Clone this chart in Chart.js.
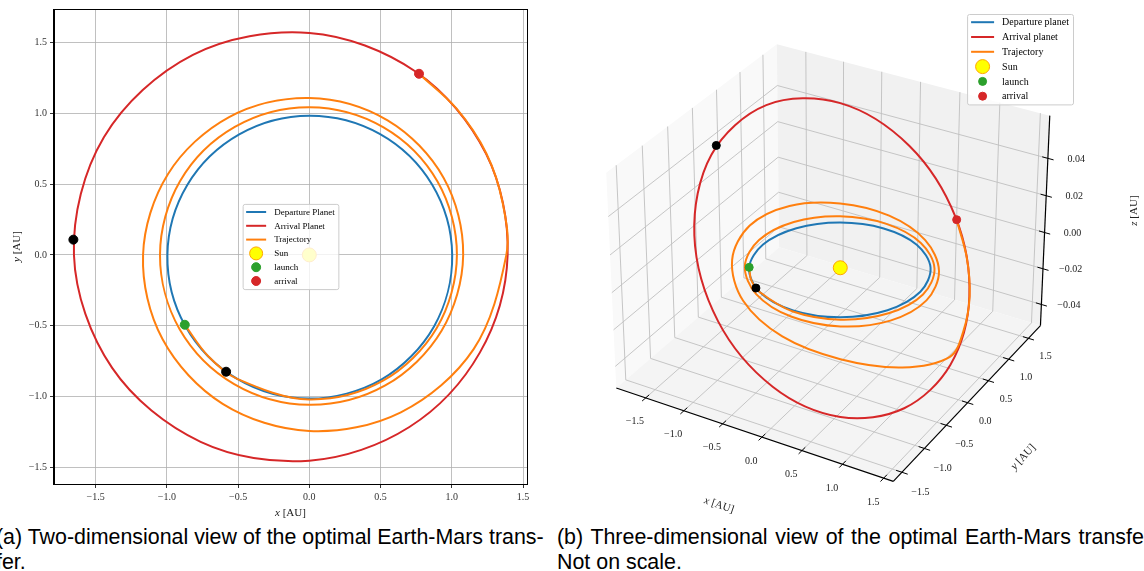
<!DOCTYPE html>
<html>
<head>
<meta charset="utf-8">
<script src="https://cdn.jsdelivr.net/npm/chart.js@4.4.1/dist/chart.umd.min.js"></script>
<style>
  html, body { margin: 0; padding: 0; background: #fff; }
  body { position: relative; width: 1144px; height: 571px; overflow: hidden; }
  #panel2d { position: absolute; left: 0; top: 0; width: 556px; height: 520px; }
  #panel3d { position: absolute; left: 556px; top: 0; width: 588px; height: 520px; }
  .caption { position: absolute; font-family: "Liberation Sans", Arial, sans-serif; font-size: 21.4px;
             line-height: 25px; color: #000; white-space: nowrap; }
</style>
</head>
<body>
<div id="panel2d"><canvas id="chart2d" width="556" height="520"></canvas></div>
<div id="panel3d"><canvas id="chart3d" width="588" height="520"></canvas></div>
<div class="caption" style="left:-4px; top:525px;">(a) Two-dimensional view of the optimal Earth-Mars trans-<br>fer.</div>
<div class="caption" style="left:557px; top:525px;"><span style="word-spacing:1.7px">(b) Three-dimensional view of the optimal Earth-Mars transfer.</span><br>Not on scale.</div>

<script>
// ---------------- data (AU) ----------------
const axisTicks = [-1.5, -1.0, -0.5, 0.0, 0.5, 1.0, 1.5];
const zTicks = [-0.04, -0.02, 0.00, 0.02, 0.04];

// planet orbits sampled every 30 degrees of heliocentric longitude
const orbitAngleDeg = [0, 30, 60, 90, 120, 150, 180, 210, 240, 270, 300, 330];
const earthRadius = [1.003, 0.995, 0.988, 0.984, 0.984, 0.989, 0.996, 1.005, 1.012, 1.016, 1.016, 1.011];
const earthZ      = [0, 0, 0, 0, 0, 0, 0, 0, 0, 0, 0, 0];
const marsRadius  = [1.392, 1.432, 1.496, 1.570, 1.634, 1.665, 1.652, 1.598, 1.526, 1.455, 1.405, 1.382];
const marsZ       = [-0.0342, -0.0155, 0.0087, 0.0328, 0.0497, 0.0529, 0.0406, 0.0173, -0.0089, -0.0304, -0.0427, -0.0439];

// spiral transfer: cumulative longitude (deg), radius, out-of-plane height
const transferAngleDeg = [209.5, 225, 240, 270, 300, 330, 360, 390, 420, 450, 480, 510, 540, 570, 600, 630, 660,
                          690, 720, 750, 780, 810, 840, 870, 900, 930, 960, 990, 1020, 1050, 1080, 1095,
                          1110, 1125, 1139];
const transferRadius = [1.004, 1.008, 1.012, 1.022, 1.029, 1.033, 1.036, 1.039, 1.042, 1.045, 1.046, 1.047, 1.048,
                        1.051, 1.055, 1.060, 1.066, 1.072, 1.080, 1.089, 1.099, 1.110, 1.126, 1.145, 1.167,
                        1.190, 1.216, 1.245, 1.285, 1.332, 1.383, 1.406, 1.435, 1.462, 1.494];
const transferZ = [0, 0, 0, -0.0004, -0.0009, -0.0011, -0.0010, -0.0005, 0.0003, 0.0012, 0.0019, 0.0022, 0.0018,
                   0.0009, -0.0005, -0.0022, -0.0035, -0.0041, -0.0036, -0.0018, 0.0011, 0.0043, 0.0070, 0.0089,
                   0.0082, 0.0043, -0.0020, -0.0085, -0.0150, -0.0230, -0.0300, -0.0245, -0.0153, -0.0040, 0.0079];

const sunPos         = [0, 0, 0];
const launchPos      = [-0.874, -0.494, 0];
const arrivalPos     = [0.770, 1.281, 0.0079];
const marsAtLaunch   = [-1.656, 0.108, 0.0432];
const earthAtArrival = [-0.584, -0.826, 0];

// ---------------- helpers ----------------
const DEG = Math.PI / 180;
const COLORS = { blue: '#1f77b4', red: '#d62728', orange: '#ff7f0e', green: '#2ca02c',
                 sun: '#ffff00', sunEdge: '#ffa500', black: '#000000' };
const SERIF = '"Liberation Serif", "Times New Roman", serif';

function polarToXYZ(angles, radii, zs) {
  return angles.map((a, i) => [radii[i] * Math.cos(a * DEG), radii[i] * Math.sin(a * DEG), zs[i]]);
}
const earthPts = polarToXYZ(orbitAngleDeg, earthRadius, earthZ);
const marsPts = polarToXYZ(orbitAngleDeg, marsRadius, marsZ);
const transferPts = polarToXYZ(transferAngleDeg, transferRadius, transferZ);

function fmt(v, digits) {
  return v.toFixed(digits).replace('-', '\u2212');
}

function buildDatasets(map, names, dotR, sunR) {
  const line = (label, pts, color, order, closed) => ({
    label, legendKind: 'line', data: pts.map(map), showLine: true, borderColor: color,
    backgroundColor: color, borderWidth: 2, pointRadius: 0, pointHoverRadius: 0,
    tension: 0.34, fill: false, order, closedLoop: closed
  });
  const dots = (label, pts, fill, edge, r, order) => ({
    label, legendKind: label ? 'marker' : null, data: pts.map(map), showLine: false,
    pointRadius: r, pointHoverRadius: r, backgroundColor: fill, borderColor: edge,
    borderWidth: 1, order
  });
  return [
    line(names[0], earthPts, COLORS.blue, 6, true),
    line(names[1], marsPts, COLORS.red, 5, true),
    line(names[2], transferPts, COLORS.orange, 4, false),
    dots('Sun', [sunPos], COLORS.sun, COLORS.sunEdge, sunR, 3),
    dots(null, [marsAtLaunch, earthAtArrival], COLORS.black, COLORS.black, dotR, 2),
    dots('launch', [launchPos], COLORS.green, COLORS.green, dotR, 1),
    dots('arrival', [arrivalPos], COLORS.red, COLORS.red, dotR, 0)
  ];
}

// closes the planet orbits into smooth loops
const closeLoops = {
  id: 'closeLoops',
  afterDatasetUpdate(chart, args) {
    const ds = chart.data.datasets[args.index];
    if (ds.closedLoop) {
      args.meta.dataset._loop = true;
      args.meta.dataset._fullLoop = true;
    }
  }
};

function drawLegend(chart, o) {
  const ctx = chart.ctx;
  const items = chart.data.datasets.filter(d => d.legendKind);
  ctx.save();
  ctx.font = o.font;
  const tw = Math.max(...items.map(d => ctx.measureText(d.label).width));
  const w = o.padX * 2 + o.handle + o.gap + tw;
  const h = o.padY * 2 + o.pitch * items.length;
  let left, top;
  if (o.center) {
    const a = chart.chartArea;
    left = (a.left + a.right) / 2 - w / 2;
    top = (a.top + a.bottom) / 2 - h / 2;
  } else {
    left = o.right - w;
    top = o.top;
  }
  ctx.beginPath();
  ctx.roundRect(left + 0.5, top + 0.5, w, h, 2);
  ctx.fillStyle = 'rgba(255,255,255,0.8)';
  ctx.fill();
  ctx.strokeStyle = '#cccccc';
  ctx.lineWidth = 1;
  ctx.stroke();
  items.forEach((d, i) => {
    const cy = top + o.padY + o.pitch * (i + 0.5);
    const hx = left + o.padX;
    if (d.legendKind === 'line') {
      ctx.beginPath();
      ctx.moveTo(hx, cy);
      ctx.lineTo(hx + o.handle, cy);
      ctx.strokeStyle = d.borderColor;
      ctx.lineWidth = 2;
      ctx.stroke();
    } else {
      const r = d.label === 'Sun' ? o.sunR : o.dotR;
      ctx.beginPath();
      ctx.arc(hx + o.handle / 2, cy, r, 0, Math.PI * 2);
      ctx.fillStyle = d.backgroundColor;
      ctx.fill();
      ctx.strokeStyle = d.borderColor;
      ctx.lineWidth = 1;
      ctx.stroke();
    }
    ctx.fillStyle = '#000';
    ctx.textAlign = 'left';
    ctx.textBaseline = 'middle';
    ctx.fillText(d.label, hx + o.handle + o.gap, cy + 0.5);
  });
  ctx.restore();
}

// italic variable followed by an upright unit, centred on (x, y)
function drawAxisTitle(ctx, variable, unit, x, y, rot, size) {
  ctx.save();
  ctx.translate(x, y);
  ctx.rotate(rot);
  const fi = 'italic ' + size + 'px ' + SERIF, fu = size + 'px ' + SERIF;
  ctx.font = fi; const w1 = ctx.measureText(variable).width;
  ctx.font = fu; const w2 = ctx.measureText(unit).width;
  ctx.fillStyle = '#222';
  ctx.textBaseline = 'middle';
  ctx.textAlign = 'left';
  ctx.font = fi; ctx.fillText(variable, -(w1 + w2) / 2, 0);
  ctx.font = fu; ctx.fillText(unit, -(w1 + w2) / 2 + w1, 0);
  ctx.restore();
}

// ---------------- 2-D view ----------------
const to2d = p => ({ x: p[0], y: p[1] });

const frame2d = {
  id: 'frame2d',
  afterDatasetsDraw(chart) {
    const { ctx, chartArea: a } = chart;
    ctx.save();
    ctx.strokeStyle = '#000';
    ctx.lineWidth = 1;
    ctx.strokeRect(Math.round(a.left) - 0.5, Math.round(a.top) + 0.5,
                   Math.round(a.right - a.left) + 1, Math.round(a.bottom - a.top));
    ctx.restore();
    drawLegend(chart, { center: true, font: '9px ' + SERIF, pitch: 13.8, padX: 3.5, padY: 1.2,
                        handle: 20, gap: 8, sunR: 6.5, dotR: 4.5 });
    drawAxisTitle(ctx, 'x', ' [AU]', (chart.chartArea.left + chart.chartArea.right) / 2, 513, 0, 11);
    drawAxisTitle(ctx, 'y', ' [AU]', 17, (chart.chartArea.top + chart.chartArea.bottom) / 2, -Math.PI / 2, 11);
  }
};

function axis2d(min, max, isX) {
  return {
    type: 'linear', min, max, position: isX ? 'bottom' : 'left',
    afterBuildTicks: s => { s.ticks = axisTicks.map(v => ({ value: v })); },
    afterFit: s => { if (isX) s.height = 36; else s.width = 54; },
    grid: { color: '#b0b0b0', lineWidth: 0.8, tickColor: '#000', tickLength: 4, drawTicks: true },
    border: { display: true, color: '#000', width: 1 },
    ticks: { font: { family: SERIF, size: 10 }, color: '#333', padding: 3, autoSkip: false,
             maxRotation: 0, callback: v => fmt(v, 1) }
  };
}

new Chart(document.getElementById('chart2d'), {
  type: 'scatter',
  data: { datasets: buildDatasets(to2d, ['Departure Planet', 'Arrival Planet', 'Trajectory'], 4.5, 7) },
  options: {
    responsive: false, animation: false, events: [],
    layout: { padding: { left: 0, top: 7, right: 29, bottom: 0 } },
    plugins: { legend: { display: false }, tooltip: { enabled: false } },
    scales: { x: axis2d(-1.792, 1.528, true), y: axis2d(-1.620, 1.739, false) }
  },
  plugins: [closeLoops, frame2d]
});

// ---------------- 3-D view ----------------
const VIEW = { elev: 30, azim: -60, dist: 10 };
const LIMS = [[-1.819, 1.545], [-1.618, 1.740], [-0.0497, 0.0602]];
const BOX = [1.1429, 1.1429, 0.8571];
const PX_PER_UNIT = [274, 283.6];     // horizontal, vertical
const SUN_PX = [284, 268];            // where the origin lands inside the canvas

const dot3 = (a, b) => a[0] * b[0] + a[1] * b[1] + a[2] * b[2];
const ev = VIEW.elev * DEG, av = VIEW.azim * DEG;
const wDir = [Math.cos(ev) * Math.cos(av), Math.cos(ev) * Math.sin(av), Math.sin(ev)];
const uLen = Math.hypot(wDir[0], wDir[1]);
const uDir = [-wDir[1] / uLen, wDir[0] / uLen, 0];
const vDir = [wDir[1] * uDir[2] - wDir[2] * uDir[1],
              wDir[2] * uDir[0] - wDir[0] * uDir[2],
              wDir[0] * uDir[1] - wDir[1] * uDir[0]];

function project(p) {
  const d = [0, 1, 2].map(i => (p[i] - LIMS[i][0]) / (LIMS[i][1] - LIMS[i][0]) * BOX[i] - BOX[i] / 2);
  const f = VIEW.dist / (VIEW.dist - dot3(wDir, d));
  return { x: dot3(uDir, d) * f, y: dot3(vDir, d) * f };
}
const originView = project(sunPos);
const view3dX = { min: originView.x - SUN_PX[0] / PX_PER_UNIT[0] };
view3dX.max = view3dX.min + 588 / PX_PER_UNIT[0];
const view3dY = { max: originView.y + SUN_PX[1] / PX_PER_UNIT[1] };
view3dY.min = view3dY.max - 520 / PX_PER_UNIT[1];

const box3d = {
  id: 'box3d',
  beforeDatasetsDraw(chart) {
    const { ctx } = chart;
    const sx = chart.scales.x, sy = chart.scales.y;
    const P = p => { const q = project(p); return [sx.getPixelForValue(q.x), sy.getPixelForValue(q.y)]; };
    const span = LIMS.map(l => l[1] - l[0]);
    const [X, Y, Z] = LIMS.map((l, i) => [l[0] - span[i] / 48, l[1] + span[i] / 48]);

    const poly = (pts, fill) => {
      ctx.beginPath();
      pts.map(P).forEach((q, i) => (i ? ctx.lineTo(q[0], q[1]) : ctx.moveTo(q[0], q[1])));
      ctx.closePath();
      ctx.fillStyle = fill;
      ctx.fill();
    };
    const seg = (a, b, color, lw) => {
      const p = P(a), q = P(b);
      ctx.beginPath();
      ctx.moveTo(p[0], p[1]);
      ctx.lineTo(q[0], q[1]);
      ctx.strokeStyle = color;
      ctx.lineWidth = lw;
      ctx.stroke();
    };
    ctx.save();
    // panes
    poly([[X[0], Y[0], Z[0]], [X[0], Y[1], Z[0]], [X[0], Y[1], Z[1]], [X[0], Y[0], Z[1]]], '#f9f9f9');
    poly([[X[0], Y[1], Z[0]], [X[1], Y[1], Z[0]], [X[1], Y[1], Z[1]], [X[0], Y[1], Z[1]]], '#f1f1f1');
    poly([[X[0], Y[0], Z[0]], [X[1], Y[0], Z[0]], [X[1], Y[1], Z[0]], [X[0], Y[1], Z[0]]], '#f4f4f4');
    // grid
    const gc = '#c0c0c0', gw = 0.9;
    axisTicks.forEach(t => {
      seg([X[0], t, Z[0]], [X[0], t, Z[1]], gc, gw);
      seg([t, Y[1], Z[0]], [t, Y[1], Z[1]], gc, gw);
      seg([t, Y[0], Z[0]], [t, Y[1], Z[0]], gc, gw);
      seg([X[0], t, Z[0]], [X[1], t, Z[0]], gc, gw);
    });
    zTicks.forEach(t => {
      seg([X[0], Y[0], t], [X[0], Y[1], t], gc, gw);
      seg([X[0], Y[1], t], [X[1], Y[1], t], gc, gw);
    });
    // axis lines
    seg([X[0], Y[0], Z[0]], [X[1], Y[0], Z[0]], '#000', 1.2);
    seg([X[1], Y[0], Z[0]], [X[1], Y[1], Z[0]], '#000', 1.2);
    seg([X[1], Y[1], Z[0]], [X[1], Y[1], Z[1]], '#000', 1.2);

    // ticks and tick labels
    const dl = span.map(s => s / 12);
    const tk = 0.25, lab = 0.8, ttl = 2.4;
    ctx.font = '10px ' + SERIF;
    ctx.fillStyle = '#222';
    ctx.textAlign = 'center';
    ctx.textBaseline = 'middle';
    const label = (p, txt) => { const q = P(p); ctx.fillText(txt, q[0], q[1]); };
    axisTicks.forEach(t => {
      seg([t, Y[0] - tk * dl[1], Z[0]], [t, Y[0] + tk * dl[1], Z[0]], '#000', 1);
      label([t, Y[0] - lab * dl[1], Z[0] - lab * dl[2]], fmt(t, 1));
      seg([X[1] - tk * dl[0], t, Z[0]], [X[1] + tk * dl[0], t, Z[0]], '#000', 1);
      label([X[1] + lab * dl[0], t, Z[0] - lab * dl[2]], fmt(t, 1));
    });
    zTicks.forEach(t => {
      seg([X[1] - tk * dl[0], Y[1], t], [X[1] + tk * dl[0], Y[1], t], '#000', 1);
      label([X[1] + 1.0 * dl[0], Y[1] + 0.5 * dl[1], t], fmt(t, 2));
    });
    // axis titles, rotated along their edges
    const ang = (a, b) => { const p = P(a), q = P(b); return Math.atan2(q[1] - p[1], q[0] - p[0]); };
    const xm = (X[0] + X[1]) / 2, ym = (Y[0] + Y[1]) / 2, zm = (Z[0] + Z[1]) / 2;
    let q = P([xm, Y[0] - ttl * dl[1], Z[0] - ttl * dl[2]]);
    drawAxisTitle(ctx, 'x', ' [AU]', q[0], q[1], ang([X[0], Y[0], Z[0]], [X[1], Y[0], Z[0]]), 11);
    q = P([X[1] + ttl * dl[0], ym, Z[0] - ttl * dl[2]]);
    drawAxisTitle(ctx, 'y', ' [AU]', q[0], q[1], ang([X[1], Y[0], Z[0]], [X[1], Y[1], Z[0]]), 11);
    q = P([X[1] + 2.7 * dl[0], Y[1] + 2.7 * dl[1], zm]);
    drawAxisTitle(ctx, 'z', ' [AU]', q[0], q[1], -Math.PI / 2, 11);
    ctx.restore();
  },
  afterDatasetsDraw(chart) {
    drawLegend(chart, { center: false, right: 517, top: 14, font: '10px ' + SERIF, pitch: 14.8,
                        padX: 4, padY: 0.8, handle: 23, gap: 8, sunR: 7, dotR: 4 });
  }
};

new Chart(document.getElementById('chart3d'), {
  type: 'scatter',
  data: { datasets: buildDatasets(project, ['Departure planet', 'Arrival planet', 'Trajectory'], 4, 7) },
  options: {
    responsive: false, animation: false, events: [],
    layout: { padding: 0 },
    plugins: { legend: { display: false }, tooltip: { enabled: false } },
    scales: {
      x: { type: 'linear', display: false, min: view3dX.min, max: view3dX.max },
      y: { type: 'linear', display: false, min: view3dY.min, max: view3dY.max }
    }
  },
  plugins: [closeLoops, box3d]
});
</script>
</body>
</html>
